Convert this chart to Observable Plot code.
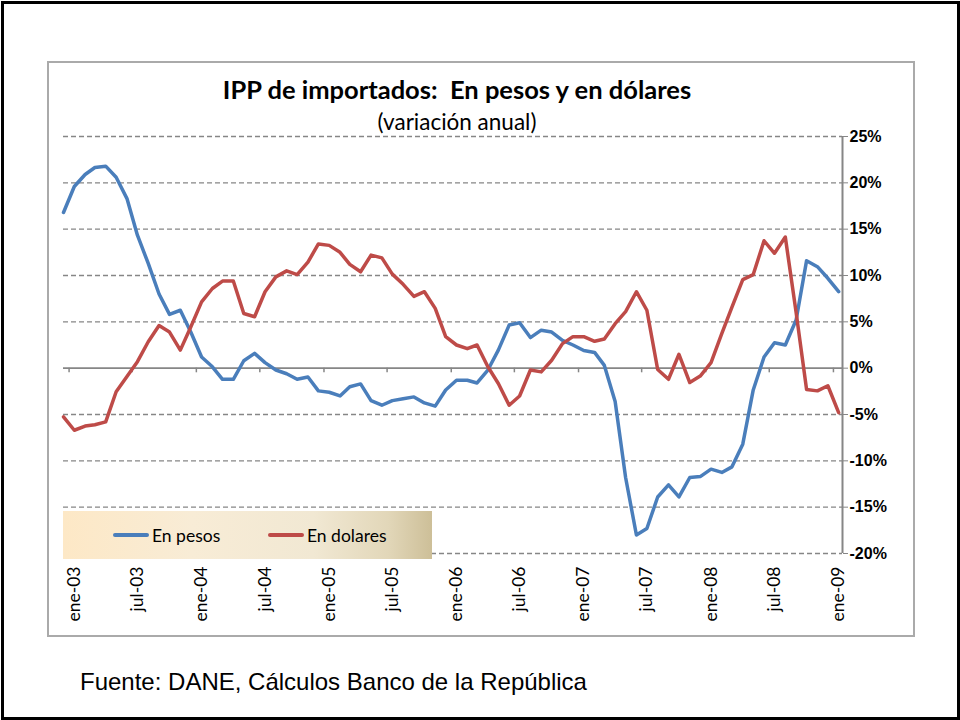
<!DOCTYPE html>
<html><head><meta charset="utf-8">
<script src="https://cdn.jsdelivr.net/npm/d3@7"></script>
<script src="https://cdn.jsdelivr.net/npm/@observablehq/plot@0.6"></script>
<style>
html,body{margin:0;padding:0;background:#fff;}
body{width:960px;height:720px;position:relative;overflow:hidden;font-family:Lato,"Open Sans",sans-serif;}
#outer{position:absolute;left:1px;top:1px;width:959px;height:719px;box-sizing:border-box;border:3px solid #000;}
#inner{position:absolute;left:47px;top:61px;width:868px;height:576px;box-sizing:border-box;border:2px solid #aaaaaa;}
#chart{position:absolute;left:0;top:0;}
#title{position:absolute;left:0;width:914px;top:75px;text-align:center;font-weight:bold;font-size:25.5px;line-height:28px;white-space:pre;color:#000;}
#subtitle{position:absolute;left:0;width:914px;top:108px;text-align:center;font-size:22.5px;line-height:28px;color:#000;}
#legend{position:absolute;left:63px;top:511px;width:369px;height:48px;background:linear-gradient(to right,#fde8c6 0%,#f8ecd6 35%,#f1e8d3 68%,#e2d7b9 88%,#cdbf98 100%);}
.li{position:absolute;top:0;height:48px;display:flex;align-items:center;font-size:17.5px;color:#000;}
.sw{display:inline-block;width:36px;height:4px;border-radius:2px;margin-right:3px;}
#foot{position:absolute;left:80px;top:668px;font-family:"Liberation Sans",Arial,sans-serif;font-size:24px;line-height:28px;color:#000;white-space:nowrap;}
</style>
</head><body>
<div id="outer"></div>
<div id="inner"></div>
<div id="chart"></div>
<div id="title">IPP de importados:  En pesos y en dólares</div>
<div id="subtitle">(variación anual)</div>
<div id="legend">
  <div class="li" style="left:50px"><span class="sw" style="background:#4a7ebb"></span>En pesos</div>
  <div class="li" style="left:205px"><span class="sw" style="background:#be4b48"></span>En dolares</div>
</div>
<div id="foot">Fuente: DANE, Cálculos Banco de la República</div>
<script>
// Monthly categories: dic-02 .. ene-09 (74 months)
const firstMonth = "2002-12-01";
const lastMonth = "2009-01-01";

// Series values (% annual variation)
const enPesos = [
  16.8, 19.6, 20.9, 21.65, 21.8, 20.6, 18.3, 14.35, 11.3, 8.0,
  5.8, 6.25, 3.9, 1.2, 0.15, -1.2, -1.2, 0.8, 1.6, 0.6,
  -0.2, -0.6, -1.2, -0.95, -2.45, -2.6, -3.0, -2.0, -1.7, -3.5,
  -4.0, -3.5, -3.3, -3.1, -3.75, -4.1, -2.35, -1.3, -1.3, -1.6,
  -0.2, 1.95, 4.65, 4.9, 3.3, 4.1, 3.9, 3.0, 2.5, 1.9,
  1.7, 0.3, -3.6, -11.8, -18.0, -17.3, -13.9, -12.6, -13.9, -11.8,
  -11.7, -10.9, -11.25, -10.65, -8.2, -2.35, 1.2, 2.75, 2.5, 5.2,
  11.6, 10.95, 9.7, 8.25
];
const enDolares = [
  -5.25, -6.7, -6.25, -6.1, -5.8, -2.55, -0.9, 0.7, 2.85, 4.6,
  3.9, 1.95, 4.45, 7.15, 8.6, 9.4, 9.4, 5.9, 5.55, 8.25,
  9.85, 10.5, 10.1, 11.45, 13.4, 13.25, 12.5, 11.2, 10.4, 12.2,
  11.9, 10.15, 9.05, 7.75, 8.25, 6.45, 3.4, 2.5, 2.1, 2.5,
  0.15, -1.65, -4.0, -3.0, -0.2, -0.4, 0.85, 2.65, 3.4, 3.4,
  2.9, 3.15, 4.8, 6.1, 8.25, 6.25, -0.15, -1.2, 1.5, -1.55,
  -0.85, 0.6, 3.75, 6.6, 9.55, 10.1, 13.75, 12.4, 14.15, 6.0,
  -2.3, -2.45, -1.9, -4.8
];

// Tick labels (x) and y ticks
const tickLabels = ["ene-03","jul-03","ene-04","jul-04","ene-05","jul-05","ene-06","jul-06","ene-07","jul-07","ene-08","jul-08","ene-09"];
const tickDates = ["2003-01-01","2003-07-01","2004-01-01","2004-07-01","2005-01-01","2005-07-01","2006-01-01","2006-07-01","2007-01-01","2007-07-01","2008-01-01","2008-07-01","2009-01-01"];
const yTicks = [-20, -15, -10, -5, 0, 5, 10, 15, 20, 25];

const months = d3.utcMonth.range(new Date(firstMonth), d3.utcMonth.offset(new Date(lastMonth), 1));
const data = months.map((d, i) => ({date: d, pesos: enPesos[i], dolares: enDolares[i]}));
const tDates = tickDates.map(s => new Date(s));
const labelOf = new Map(tDates.map((d, i) => [+d, tickLabels[i]]));
const boundaryTicks = tDates.map(d => d3.utcDay.offset(d, -15));
const xEnd = d3.utcDay.offset(new Date(lastMonth), 11.5);

const grey = "#868686";
const chart = Plot.plot({
  width: 960,
  height: 640,
  marginLeft: 63,
  marginRight: 118,
  marginTop: 136,
  marginBottom: 87,
  style: {background: "transparent", fontFamily: "Lato, sans-serif", overflow: "visible"},
  x: {type: "utc", domain: [new Date(firstMonth), xEnd]},
  y: {domain: [-20, 25]},
  marks: [
    Plot.ruleY(yTicks.filter(v => v !== 0), {stroke: grey, strokeWidth: 1.3, strokeDasharray: "5,3"}),
    Plot.ruleY([0], {stroke: grey, strokeWidth: 1.8}),
    Plot.ruleX(boundaryTicks, {y1: 0, y2: -0.5, stroke: grey, strokeWidth: 1.5}),
    Plot.ruleX([xEnd], {y1: -20, y2: 25, stroke: grey, strokeWidth: 2}),
    Plot.line(data, {x: "date", y: "pesos", stroke: "#4a7ebb", strokeWidth: 3.5, strokeLinejoin: "round", strokeLinecap: "round"}),
    Plot.line(data, {x: "date", y: "dolares", stroke: "#be4b48", strokeWidth: 3.5, strokeLinejoin: "round", strokeLinecap: "round"}),
    Plot.axisY(yTicks, {anchor: "right", tickSize: 5, tickPadding: 2, stroke: grey, fill: "#000", tickFormat: d => d + "%",
      fontSize: 16, fontWeight: "bold", fontFamily: "Liberation Sans, Arial, sans-serif", label: null}),
    Plot.axisX(tDates, {anchor: "bottom", tickSize: 0, tickPadding: 13, tickRotate: -90, fill: "#000",
      tickFormat: d => labelOf.get(+d), fontSize: 17.5, fontFamily: "Lato, sans-serif", label: null})
  ]
});
document.getElementById("chart").appendChild(chart);
</script>
</body></html>
